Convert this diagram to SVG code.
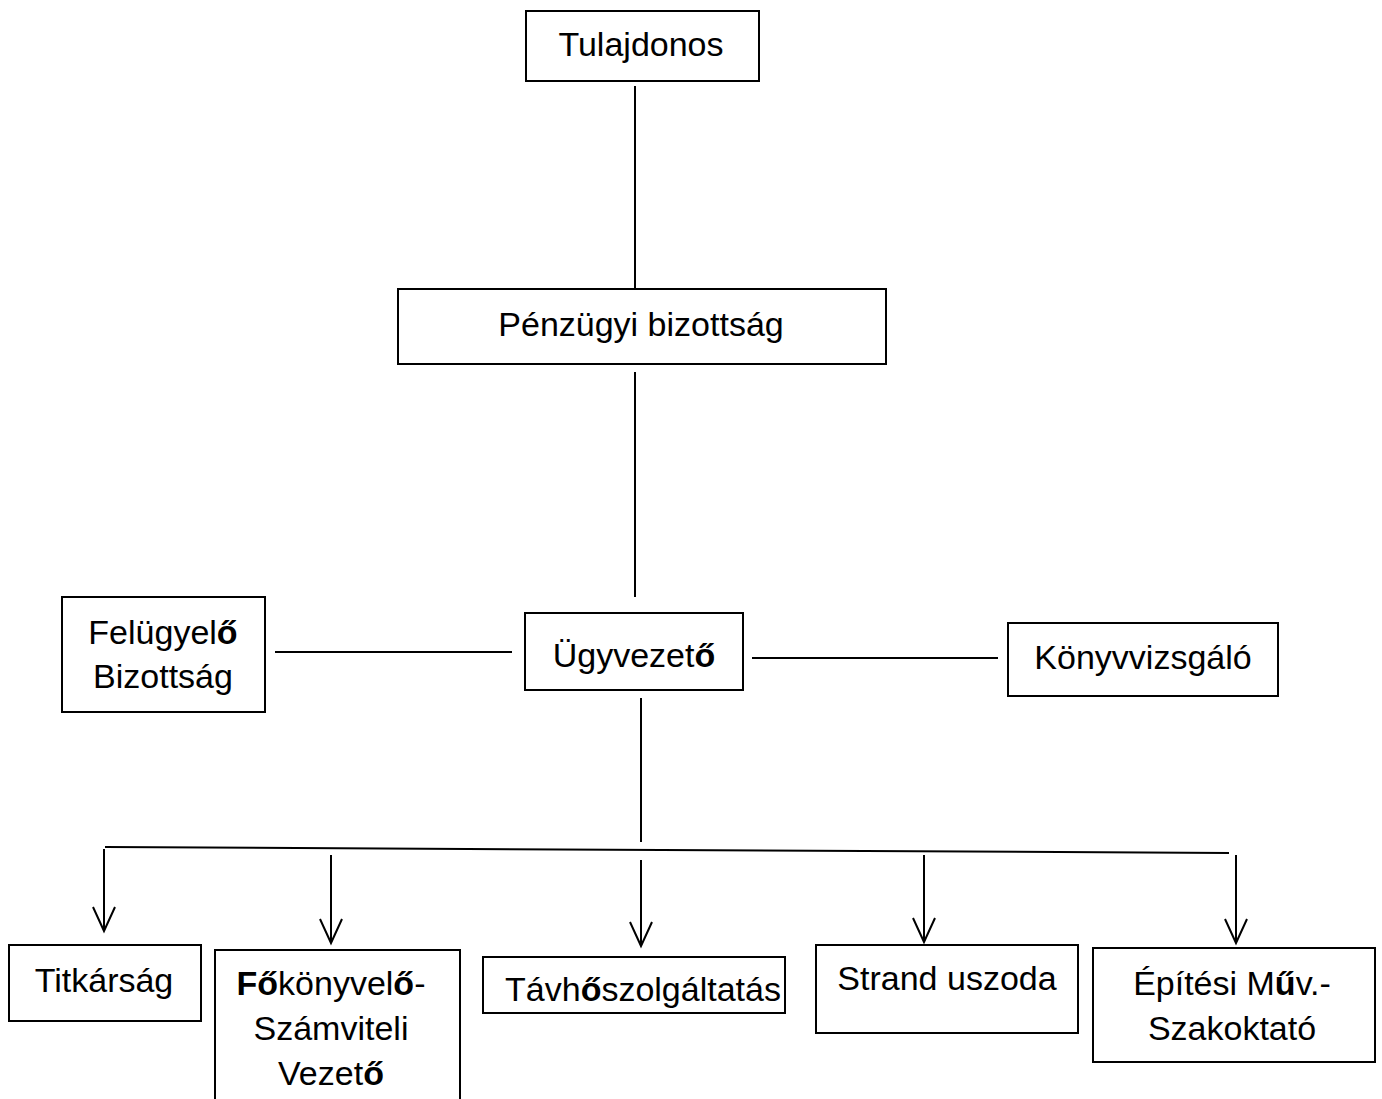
<svg xmlns="http://www.w3.org/2000/svg" width="1382" height="1099" viewBox="0 0 1382 1099">
<style>
  .box{fill:#fff;stroke:#000;stroke-width:2}
  .t{font-family:"Liberation Sans",Arial,sans-serif;font-size:34px;fill:#000;text-anchor:middle}
  .b{font-weight:bold}
  .c{stroke:#000;stroke-width:2;fill:none}
</style>
<defs>
  <marker id="arr" markerWidth="28" markerHeight="28" refX="25" refY="14" orient="auto" markerUnits="userSpaceOnUse" viewBox="0 0 28 28">
    <path d="M1,3 L25,14 L1,25" fill="none" stroke="#000" stroke-width="2"/>
  </marker>
  <clipPath id="clipTav"><rect x="484" y="958" width="300" height="54"/></clipPath>
</defs>
<rect width="1382" height="1099" fill="#fff"/>
<g id="connectors">
  <line class="c" x1="635" y1="86" x2="635" y2="290"/>
  <line class="c" x1="635" y1="372" x2="635" y2="597"/>
  <line class="c" x1="275" y1="652" x2="512" y2="652"/>
  <line class="c" x1="752" y1="658" x2="998" y2="658"/>
  <line class="c" x1="641" y1="698" x2="641" y2="842"/>
  <line class="c" x1="105" y1="847" x2="1229" y2="853"/>
  <line class="c" x1="104" y1="849" x2="104" y2="931" marker-end="url(#arr)"/>
  <line class="c" x1="331" y1="855" x2="331" y2="943" marker-end="url(#arr)"/>
  <line class="c" x1="641" y1="860" x2="641" y2="946" marker-end="url(#arr)"/>
  <line class="c" x1="924" y1="855" x2="924" y2="942" marker-end="url(#arr)"/>
  <line class="c" x1="1236" y1="855" x2="1236" y2="943" marker-end="url(#arr)"/>
</g>
<g id="tulajdonos">
  <rect class="box" x="526" y="11" width="233" height="70"/>
  <text class="t" x="641" y="56">Tulajdonos</text>
</g>
<g id="penzugyi">
  <rect class="box" x="398" y="289" width="488" height="75"/>
  <text class="t" x="641" y="336">Pénzügyi bizottság</text>
</g>
<g id="felugyelo">
  <rect class="box" x="62" y="597" width="203" height="115"/>
  <text class="t" x="163" y="644">Felügyel<tspan class="b">ő</tspan></text>
  <text class="t" x="163" y="688">Bizottság</text>
</g>
<g id="ugyvezeto">
  <rect class="box" x="525" y="613" width="218" height="77"/>
  <text class="t" x="634" y="667">Ügyvezet<tspan class="b">ő</tspan></text>
</g>
<g id="konyvvizsgalo">
  <rect class="box" x="1008" y="623" width="270" height="73"/>
  <text class="t" x="1143" y="669">Könyvvizsgáló</text>
</g>
<g id="titkarsag">
  <rect class="box" x="9" y="945" width="192" height="76"/>
  <text class="t" x="104" y="992">Titkárság</text>
</g>
<g id="fokonyvelo">
  <rect class="box" x="215" y="950" width="245" height="160"/>
  <text class="t" x="331" y="995"><tspan class="b">Fő</tspan>könyvel<tspan class="b">ő</tspan>-</text>
  <text class="t" x="331" y="1040">Számviteli</text>
  <text class="t" x="331" y="1085">Vezet<tspan class="b">ő</tspan></text>
</g>
<g id="tavho">
  <rect class="box" x="483" y="957" width="302" height="56"/>
  <text class="t" x="643" y="1001" clip-path="url(#clipTav)">Távh<tspan class="b">ő</tspan>szolgáltatás</text>
</g>
<g id="strand">
  <rect class="box" x="816" y="945" width="262" height="88"/>
  <text class="t" x="947" y="990">Strand uszoda</text>
</g>
<g id="epitesi">
  <rect class="box" x="1093" y="948" width="282" height="114"/>
  <text class="t" x="1232" y="995">Építési M<tspan class="b">ű</tspan>v.-</text>
  <text class="t" x="1232" y="1040">Szakoktató</text>
</g>
</svg>
